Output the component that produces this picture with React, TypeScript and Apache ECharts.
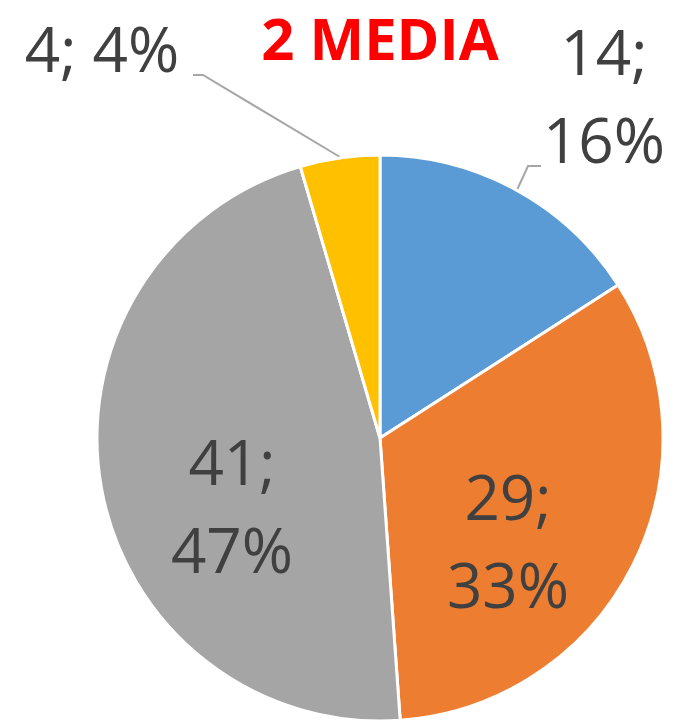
import React, { useEffect, useRef } from "react";
import * as echarts from "echarts";

const categories = ["A", "B", "C", "D"];
const values = [14, 29, 41, 4];
const percentLabels = ["16%", "33%", "47%", "4%"];
const colors = ["#5B9BD5", "#ED7D31", "#A5A5A5", "#FFC000"];
const titleText = "2 MEDIA";

// label placement (center of label box) and leader lines, per slice
const labelPos: ([number, number] | null)[] = [
  [604, 95],
  [508, 540],
  [232, 505],
  [102, 48],
];
const leaderLines: (number[][] | null)[] = [
  [[517, 190], [528, 166], [541, 166]],
  null,
  null,
  [[340, 157], [203, 75], [193, 75]],
];
const labelBreak = ["\n", "\n", "\n", " "];

export default function App() {
  const ref = useRef<HTMLDivElement>(null);
  useEffect(() => {
    if (!ref.current) return;
    const chart = echarts.init(ref.current, undefined, { renderer: "svg" });
    chart.setOption({
      animation: false,
      backgroundColor: "#ffffff",
      graphic: [
        {
          type: "text",
          x: 380,
          y: 37,
          style: {
            text: titleText,
            fill: "#FF0000",
            fontFamily: "Open Sans",
            fontWeight: "bold",
            fontSize: 58,
            align: "center",
            verticalAlign: "middle",
          },
        },
      ],
      series: [
        {
          type: "pie",
          center: [380, 438],
          radius: 283,
          startAngle: 90,
          clockwise: true,
          itemStyle: { borderColor: "#ffffff", borderWidth: 3 },
          label: {
            show: true,
            fontFamily: "Open Sans",
            fontSize: 62,
            color: "#404040",
            lineHeight: 88,
            align: "center",
            verticalAlign: "middle",
            overflow: "none",
          },
          labelLine: {
            show: true,
            lineStyle: { color: "#A6A6A6", width: 2 },
          },
          labelLayout: (params: any) => {
            const i = params.dataIndex;
            const p = labelPos[i];
            const res: any = {};
            if (p) {
              res.x = p[0];
              res.y = p[1];
              res.align = "center";
              res.verticalAlign = "middle";
            }
            const l = leaderLines[i];
            if (l) res.labelLinePoints = l;
            return res;
          },
          data: categories.map((c, i) => ({
            name: c,
            value: values[i],
            itemStyle: { color: colors[i] },
            label: {
              position: leaderLines[i] ? "outside" : "inside",
              formatter: `${values[i]};${labelBreak[i]}${percentLabels[i]}`,
            },
            labelLine: { show: !!leaderLines[i] },
          })),
        },
      ],
    });
    return () => chart.dispose();
  }, []);
  return (
    <div
      ref={ref}
      style={{ position: "fixed", left: 0, top: 0, width: 678, height: 721 }}
    />
  );
}
